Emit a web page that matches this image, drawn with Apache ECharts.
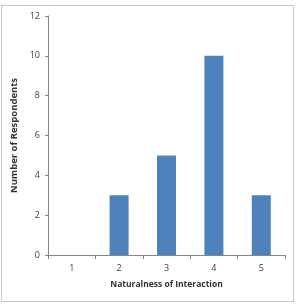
<!DOCTYPE html>
<html>
<head>
<meta charset="utf-8">
<script src="https://cdn.jsdelivr.net/npm/echarts@6/dist/echarts.min.js"></script>
<style>
  html, body { margin: 0; padding: 0; background: #fff; }
  #frame { position: absolute; left: 1px; top: 5px; width: 291px; height: 295px; border: 1px solid #c8c8c8; }
  #chart { position: absolute; left: 0; top: 0; width: 296px; height: 304px; }
</style>
</head>
<body>
<div id="frame"></div>
<div id="chart"></div>
<script>
// 自然度评分
const categories = ["1", "2", "3", "4", "5"];
const respondents = [0, 3, 5, 10, 3];
const yTicks = [0, 2, 4, 6, 8, 10, 12];

let myChart = echarts.init(document.getElementById("chart"));
myChart.setOption({
  animation: false,
  grid: { left: 48, right: 11, top: 16, bottom: 49 },
  xAxis: {
    type: "category",
    data: categories,
    name: "Naturalness of Interaction",
    nameLocation: "middle",
    nameGap: 25,
    nameTextStyle: { fontFamily: "Open Sans", fontWeight: "bold", fontSize: 8.5, color: "#333" },
    axisLine: { lineStyle: { color: "#868686" } },
    axisTick: { show: true, length: 4, lineStyle: { color: "#868686" } },
    axisLabel: { fontFamily: "Open Sans", fontSize: 9, color: "#404040", margin: 9 }
  },
  yAxis: {
    type: "value",
    min: yTicks[0],
    max: yTicks[yTicks.length - 1],
    interval: 2,
    name: "Number of Respondents",
    nameLocation: "middle",
    nameGap: 20,
    nameTextStyle: { fontFamily: "Open Sans", fontWeight: "bold", fontSize: 9.5, color: "#333" },
    axisLine: { show: true, lineStyle: { color: "#868686" } },
    axisTick: { show: true, length: 3, lineStyle: { color: "#868686" } },
    splitLine: { show: false },
    axisLabel: { fontFamily: "Open Sans", fontSize: 9, color: "#404040", margin: 8 }
  },
  series: [
    {
      type: "bar",
      data: respondents,
      barWidth: 19,
      itemStyle: { color: "#4f81bd" }
    }
  ]
});
</script>
</body>
</html>
